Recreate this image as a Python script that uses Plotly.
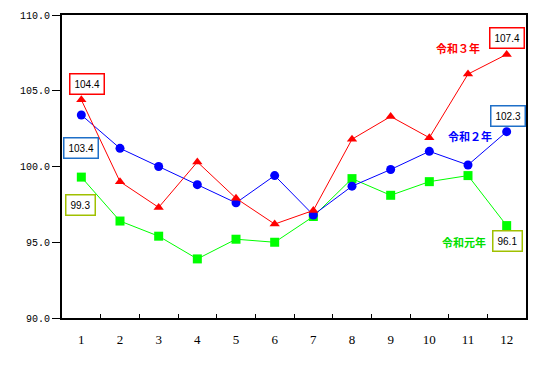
import plotly.graph_objects as go

months = [1, 2, 3, 4, 5, 6, 7, 8, 9, 10, 11, 12]
month_labels = ["1", "2", "3", "4", "5", "6", "7", "8", "9", "10", "11", "12"]
r3 = [104.4, 99.0, 97.3, 100.3, 97.9, 96.2, 97.1, 101.8, 103.3, 101.9, 106.1, 107.4]
r2 = [103.4, 101.2, 100.0, 98.8, 97.6, 99.4, 96.8, 98.7, 99.8, 101.0, 100.1, 102.3]
r1 = [99.3, 96.4, 95.4, 93.9, 95.2, 95.0, 96.7, 99.2, 98.1, 99.0, 99.4, 96.1]
y_ticks = [90, 95, 100, 105, 110]
y_tick_labels = ["90.0", "95.0", "100.0", "105.0", "110.0"]
boundaries = [m + 0.5 for m in months[:-1]]

fig = go.Figure()
fig.add_trace(go.Scatter(x=months, y=r1, mode="lines+markers", name="令和元年",
                         line=dict(color="#00ff00", width=1),
                         marker=dict(symbol="square", size=9, color="#00ff00")))
fig.add_trace(go.Scatter(x=months, y=r2, mode="lines+markers", name="令和２年",
                         line=dict(color="#0000ff", width=1),
                         marker=dict(symbol="circle", size=9, color="#0000ff")))
fig.add_trace(go.Scatter(x=months, y=r3, mode="lines+markers", name="令和３年",
                         line=dict(color="#ff0000", width=1),
                         marker=dict(symbol="triangle-up", size=9, color="#ff0000")))
fig.add_trace(go.Scatter(x=months, y=r1, xaxis="x2", mode="markers",
                         marker=dict(opacity=0), hoverinfo="skip", showlegend=False))

def box(x, y, text, color):
    fig.add_annotation(x=x, y=y, xref="x", yref="y", text=text, showarrow=False,
                       font=dict(family="Liberation Sans, Arial", size=10, color="black"),
                       bordercolor=color, borderwidth=1.5, borderpad=4, bgcolor="white")

box(1.15, 105.45, "104.4", "#ff0000")
box(0.99, 101.22, "103.4", "#1e6fc8")
box(0.97, 97.46, "99.3", "#a0c000")
box(12.01, 108.48, "107.4", "#ff0000")
box(12.03, 103.33, "102.3", "#1e6fc8")
box(12.03, 95.08, "96.1", "#a0c000")

def label(x, y, text, color):
    fig.add_annotation(x=x, y=y, xref="x", yref="y", text=text, showarrow=False,
                       font=dict(family="Noto Sans CJK JP", size=11, color=color, weight="bold"))

label(10.74, 107.82, "令和３年", "#ff0000")
label(11.05, 102.01, "令和２年", "#0000ff")
label(10.9, 95.02, "令和元年", "#00e000")

fig.update_layout(
    width=539, height=367,
    margin=dict(l=54, r=21, t=7, b=57, autoexpand=False),
    paper_bgcolor="white", plot_bgcolor="white",
    showlegend=False,
    xaxis=dict(range=[0.5, 12.5], tickmode="array", tickvals=boundaries,
               showticklabels=False, automargin=False,
               showgrid=False, zeroline=False, showline=True, linecolor="black", linewidth=2,
               mirror=True, ticks="inside", ticklen=4, tickcolor="black", tickwidth=1),
    xaxis2=dict(overlaying="x", anchor="y", side="bottom", range=[0.5, 12.5],
                tickmode="array", tickvals=months, ticktext=month_labels, automargin=False,
                showgrid=False, zeroline=False, showline=False, ticks="",
                ticklabelstandoff=12,
                tickfont=dict(family="Liberation Serif", size=13, color="black")),
    yaxis=dict(range=[90, 110], tickmode="array", tickvals=y_ticks, ticktext=y_tick_labels,
               automargin=False,
               showgrid=False, zeroline=False, showline=True, linecolor="black", linewidth=2,
               mirror=True, ticks="outside", ticklen=8, tickcolor="black", tickwidth=1,
               tickfont=dict(family="Liberation Mono", size=10, color="black")),
)
fig.write_html("out.html")
